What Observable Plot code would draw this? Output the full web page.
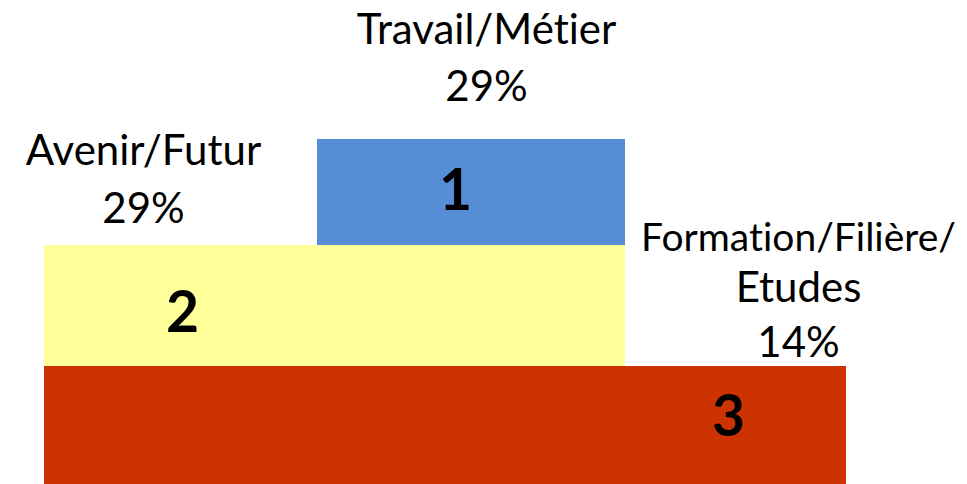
<!DOCTYPE html>
<html><head><meta charset="utf-8">
<script src="https://cdn.jsdelivr.net/npm/d3@7"></script>
<script src="https://cdn.jsdelivr.net/npm/@observablehq/plot@0.6"></script>
<style>html,body{margin:0;padding:0;background:#fff;overflow:hidden} svg text{font-variant-ligatures:none;font-feature-settings:"liga" 0}</style>
</head><body><div id="chart"></div>
<script>
// Data
const ranks = [1, 2, 3];
const categories = ["Travail/Métier", "Avenir/Futur", "Formation/Filière/\nEtudes"];
const percents = [29, 29, 14];
// Podium step extents (podium units, left→right, top→bottom)
const stepStart = [317, 44, 44];
const stepEnd = [625, 625, 846];
const stepTop = [139, 245, 366];
const stepBottom = [245, 366, 484];
const colors = ["#558ED5", "#FFFF99", "#CC3300"];

// Layout for annotations (podium units)
const rankLabelX = [455, 182, 728];
const rankLabelY = [209, 331, 435];
const catLabelX = [486, 143, 798];
const catLabelBaseline = [[43, 100], [164, 222], [250, 301, 356]];
const catLineSize = [[42, 42], [42, 42], [39, 42, 42]];

const bars = ranks.map((r, i) => ({rank: r, x1: stepStart[i], x2: stepEnd[i], y1: stepTop[i], y2: stepBottom[i], color: colors[i]}));
const rankLabels = ranks.map((r, i) => ({text: String(r), x: rankLabelX[i], y: rankLabelY[i]}));
const catLines = [];
categories.forEach((c, i) => {
  const lines = c.split("\n").concat([percents[i] + "%"]);
  lines.forEach((t, j) => catLines.push({text: t, x: catLabelX[i], y: catLabelBaseline[i][j], size: catLineSize[i][j]}));
});

const chart = Plot.plot({
  width: 967, height: 484,
  margin: 0,
  x: {domain: [0, 967], range: [0, 967], axis: null},
  y: {domain: [0, 484], range: [0, 484], axis: null},
  style: {fontFamily: "Lato, sans-serif", background: "#fff"},
  marks: [
    Plot.rect(bars, {x1: "x1", x2: "x2", y1: "y1", y2: "y2", fill: d => d.color}),
    Plot.text(rankLabels, {x: "x", y: "y", text: "text", fontSize: 57, fontWeight: "bold", fill: "#000", lineAnchor: "bottom", textAnchor: "middle"}),
    Plot.text(catLines, {x: "x", y: "y", text: "text", fontSize: "size", fill: "#000", lineAnchor: "bottom", textAnchor: "middle"})
  ]
});
document.getElementById("chart").appendChild(chart);
</script>
</body></html>
